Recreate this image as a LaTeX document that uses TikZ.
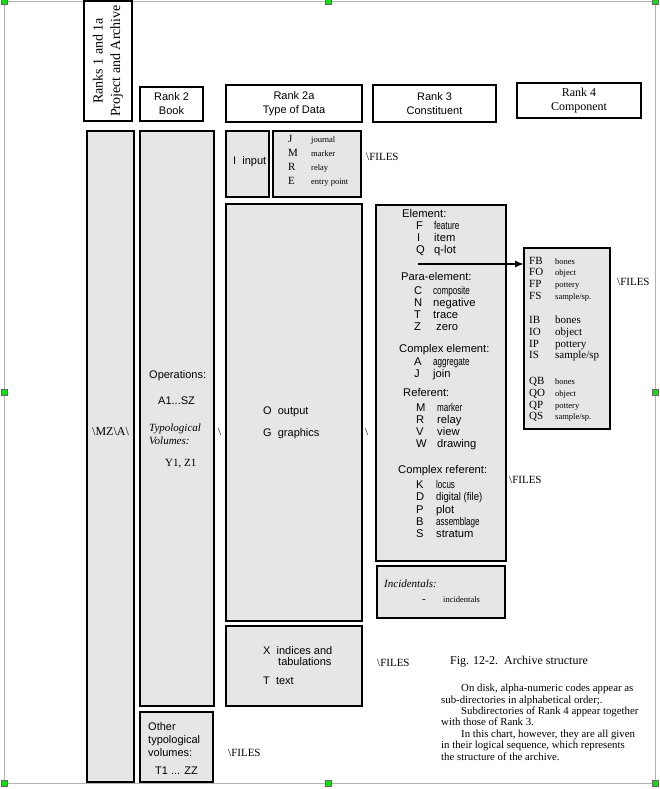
\documentclass[tikz,border=0pt]{standalone}
\usepackage{fontspec}
\setmainfont{Liberation Serif}
\setsansfont{Liberation Sans}
\usetikzlibrary{arrows.meta}
\definecolor{boxgray}{RGB}{230,230,230}
\definecolor{handle}{RGB}{20,220,20}
\newcommand\bx[6]{\node[#6, anchor=north west, minimum width={(#4-#2)*1pt}, minimum height={(#5-#3)*1pt}] (#1) at (#2,#3) {};}
\newcommand\sq[1]{\scalebox{0.72}[1]{#1}}
\begin{document}
\begin{tikzpicture}[x=1pt,y=-1pt,
  box/.style={draw, line width=1.1pt, fill=boxgray, inner sep=0pt, outer sep=0pt},
  hbox/.style={draw, line width=1.1pt, fill=white, inner sep=0pt, outer sep=0pt},
  sf/.style={font=\sffamily\fontsize{11}{12}\selectfont, inner sep=0pt, anchor=base west, yshift=-4pt},
  sfr/.style={font=\sffamily\fontsize{11.2}{12}\selectfont, inner sep=0pt, anchor=base west, yshift=-4pt},
  sfh/.style={font=\sffamily\fontsize{11}{14}\selectfont, inner sep=0pt, align=center},
  rm/.style={font=\rmfamily\fontsize{11}{12}\selectfont, inner sep=0pt, anchor=base west, yshift=-3.8pt},
  rms/.style={font=\rmfamily\fontsize{8.5}{10}\selectfont, inner sep=0pt, anchor=base west, yshift=-3.8pt},
  frame/.style={draw=black!30, line width=0.8pt},
  hnd/.style={draw=black!60, fill=handle, line width=0.4pt, minimum size=6pt, inner sep=0pt}]
\useasboundingbox (0,0) rectangle (660,789);
\fill[white] (0,0) rectangle (660,789);
% selection frame
\draw[frame] (4,1) rectangle (655,783);
% header
\bx{h1}{84}{1}{132}{121}{hbox}
\node[font=\rmfamily\fontsize{14}{17.5}\selectfont, rotate=90, align=center, inner sep=0pt] (h1t) at (h1.center) {Ranks 1 and 1a\\Project and Archive};
\bx{h2}{140}{87}{203}{121}{hbox}
\node[sfh] (h2t) at (h2.center) {Rank 2\\Book};
\bx{h3}{226}{85}{362}{122}{hbox}
\node[sfh] (h3t) at (h3.center) {Rank 2a\\Type of Data};
\bx{h4}{373}{85}{496}{122}{hbox}
\node[sfh] (h4t) at (h4.center) {Rank 3\\Constituent};
\bx{h5}{517}{83}{641}{118}{hbox}
\node[font=\rmfamily\fontsize{12}{14}\selectfont, inner sep=0pt, align=center] (h5t) at (h5.center) {Rank 4\\Component};
% rank 1
\bx{c1}{87}{131}{134}{782}{box}
\node[font=\rmfamily\fontsize{12}{12}\selectfont, inner sep=0pt] (mz) at (110.5,432) {\textbackslash MZ\textbackslash A\textbackslash};
% rank 2
\bx{c2}{140}{131}{214}{706}{box}
\node[sf] (ops) at (149,374) {Operations:};
\node[sf] (a1) at (158,400) {A1...SZ};
\node[font=\rmfamily\itshape\fontsize{11}{13}\selectfont, inner sep=0pt, anchor=north west, align=left] (typ) at (149,424) {Typological\\Volumes:};
\node[rm] (y1) at (165,463) {Y1, Z1};
\bx{c2b}{140}{712}{213}{782}{box}
\node[font=\sffamily\fontsize{11}{13}\selectfont, inner sep=0pt, anchor=north west, align=left] (oth) at (148,722) {Other\\typological\\volumes:};
\node[sf] (t1) at (155,770) {T1 ... ZZ};
\node[rm] (f5) at (228,753) {\textbackslash FILES};
\node[rm] (bs1) at (218,432) {\textbackslash};
% rank 2a
\bx{inp}{226}{131}{269}{197}{box}
\node[sf] (inpt) at (233,160) {I\ \ input};
\bx{jb}{273}{131}{361}{197}{box}
\foreach \l/\w/\y in {J/journal/139, M/marker/153, R/relay/167, E/entry point/181}{
  \node[rm] at (288,\y) {\l};
  \node[rms] at (311,\y) {\w};
}
\node[rm] (f1) at (366,157) {\textbackslash FILES};
\bx{og}{226}{204}{362}{621}{box}
\node[sf] (o) at (263,410) {O\ \ output};
\node[sf] (g) at (263,432) {G\ \ graphics};
\node[rm] (bs2) at (365,432) {\textbackslash};
\bx{xt}{226}{626}{362}{706}{box}
\node[sf] (x) at (263,650) {X\ \ indices and};
\node[sf] (tab) at (278,661) {tabulations};
\node[sf] (t) at (263,680) {T\ \ text};
\node[rm] (f4) at (377,663) {\textbackslash FILES};
% rank 3
\bx{r3}{376}{205}{506}{561}{box}
\node[sfr] (el) at (402,213) {Element:};
\node[sfr] at (416,225) {F}; \node[sfr] at (434,225) {\sq{feature}};
\node[sfr] at (417,237) {I}; \node[sfr] at (434,237) {item};
\node[sfr] at (416,249) {Q}; \node[sfr] at (434,249) {q-lot};
\coordinate (arrs) at (418,264);
\node[sfr] (pe) at (401,276) {Para-element:};
\node[sfr] at (414,290) {C}; \node[sfr] at (433,290) {\sq{composite}};
\node[sfr] at (414,302) {N}; \node[sfr] at (433,302) {negative};
\node[sfr] at (414,314) {T}; \node[sfr] at (433,314) {trace};
\node[sfr] at (414,326) {Z}; \node[sfr] at (436,326) {zero};
\node[sfr] (ce) at (399,348) {Complex element:};
\node[sfr] at (414,361) {A}; \node[sfr] at (433,361) {\sq{aggregate}};
\node[sfr] at (414,373) {J}; \node[sfr] at (433,373) {join};
\node[sfr] (rf) at (403,392) {Referent:};
\node[sfr] at (416,407) {M}; \node[sfr] at (437,407) {\sq{marker}};
\node[sfr] at (416,419) {R}; \node[sfr] at (437,419) {relay};
\node[sfr] at (416,431) {V}; \node[sfr] at (437,431) {view};
\node[sfr] at (416,443) {W}; \node[sfr] at (437,443) {drawing};
\node[sfr] (cr) at (398,469) {Complex referent:};
\node[sfr] at (416,484) {K}; \node[sfr] at (436,484) {\sq{locus}};
\node[sfr] at (416,496) {D}; \node[sfr] at (436,496) {\scalebox{0.85}[1]{digital (file)}};
\node[sfr] at (416,509) {P}; \node[sfr] at (436,509) {plot};
\node[sfr] at (416,521) {B}; \node[sfr] at (436,521) {\sq{assemblage}};
\node[sfr] at (416,533) {S}; \node[sfr] at (436,533) {stratum};
\node[rm] (f3) at (509,480) {\textbackslash FILES};
\bx{inc}{377}{566}{505}{618}{box}
\node[rm, font=\rmfamily\itshape\fontsize{11}{12}\selectfont] (inct) at (384,584) {Incidentals:};
\node[rm] at (422,599) {-};
\node[rms] at (443,599) {incidentals};
% rank 4
\bx{r4}{524}{248}{610}{429}{box}
\foreach \c/\w/\y in {FB/bones/261, FO/object/272, FP/pottery/284, FS/sample\slash sp./296, QB/bones/381, QO/object/393, QP/pottery/405, QS/sample\slash sp./416}{
  \node[rm] at (529,\y) {\c};
  \node[rms] at (555,\y) {\w};
}
\foreach \c/\w/\y in {IB/bones/320, IO/object/331.7, IP/pottery/343.3, IS/sample\slash sp/355}{
  \node[rm] at (529,\y) {\c};
  \node[rm] at (555,\y) {\w};
}
\node[rm] (f2) at (617,282) {\textbackslash FILES};
% arrow
\draw[line width=1.6pt, -{Latex[length=9pt,width=7pt]}] (arrs) -- (arrs -| r4.west);
% caption
\node[font=\rmfamily\fontsize{12}{14}\selectfont, inner sep=0pt, anchor=west] (cap) at (450,662) {Fig. 12-2.\ \ Archive structure};
\node[font=\rmfamily\fontsize{10.8}{11.4}\selectfont, inner sep=0pt, anchor=north west, align=left] (par) at (441,684) {\hspace*{20pt}On disk, alpha-numeric codes appear as\\sub-directories in alphabetical order;.\\\hspace*{20pt}Subdirectories of Rank 4 appear together\\with those of Rank 3.\\\hspace*{20pt}In this chart, however, they are all given\\in their logical sequence, which represents\\the structure of the archive.};
% handles
\foreach \hx/\hy [count=\i] in {4/1, 328/1, 655/1, 4/392, 655/392, 4/783, 328/783, 655/783}{
  \node[hnd] (hd\i) at (\hx,\hy) {};
}
\end{tikzpicture}
\end{document}
